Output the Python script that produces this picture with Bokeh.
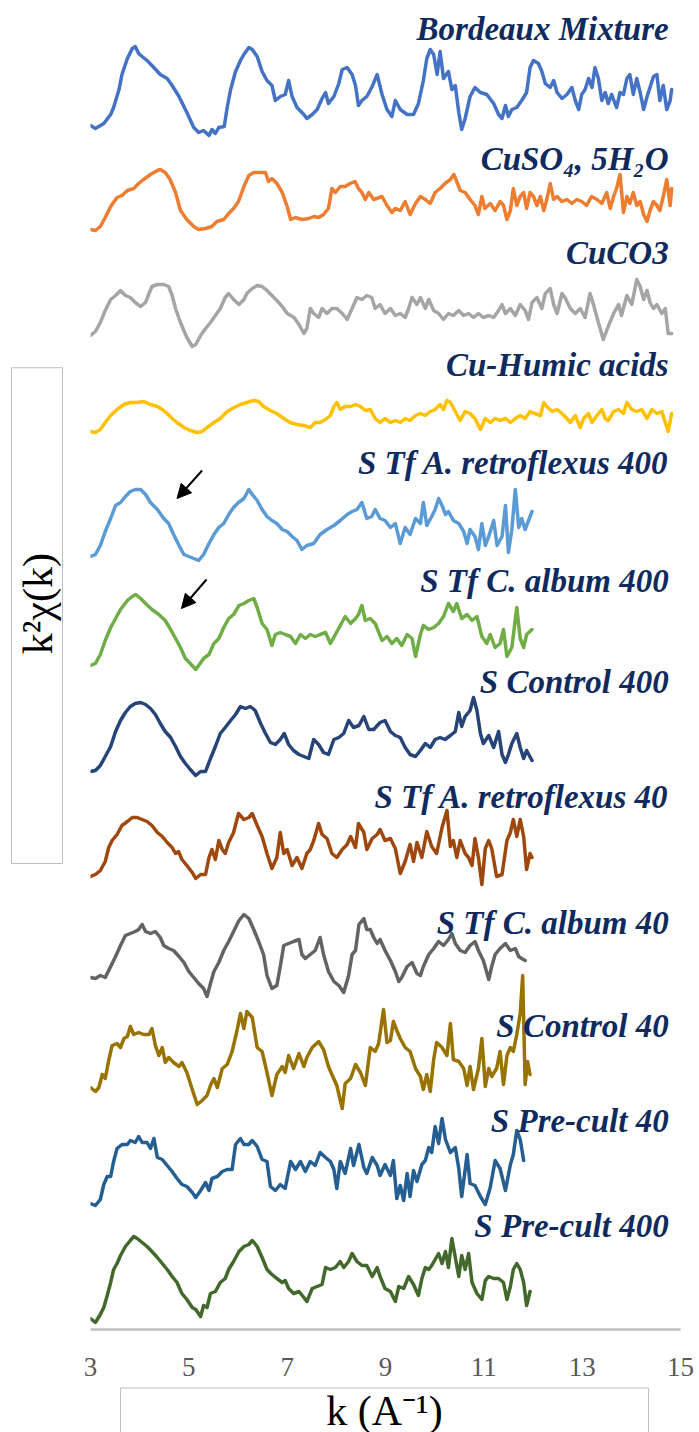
import math
from bokeh.plotting import figure
from bokeh.layouts import row, column
from bokeh.models import Range1d, FixedTicker, Arrow, NormalHead
from bokeh.core.properties import value
from bokeh.embed import file_html
from bokeh.resources import INLINE

# ---------------- data: (k, k^2 chi(k)), per sample ----------------
bordeaux = [(3.00,0),(3.10,-3),(3.27,2),(3.41,11),(3.47,18),(3.58,36),(3.64,51),(3.75,67),(3.85,77),(3.91,79),
            (3.98,72),(4.05,69),(4.15,65),(4.25,60),(4.42,51),(4.56,47),(4.66,40),(4.80,29),(4.96,13),(5.10,-2),
            (5.20,-7),(5.30,-5),(5.41,-10),(5.47,-4),(5.54,-8),(5.61,-2),(5.72,-1),(5.78,18),(5.85,36),(5.95,54),
            (6.05,65),(6.12,71),(6.22,78),(6.29,76),(6.39,69),(6.49,54),(6.59,45),(6.69,40),(6.76,25),(6.86,29),
            (6.96,31),(7.03,45),(7.10,29),(7.20,18),(7.34,11),(7.40,7),(7.51,11),(7.61,16),(7.71,27),(7.78,33),
            (7.84,22),(7.95,29),(8.05,42),(8.12,56),(8.22,58),(8.32,51),(8.39,40),(8.45,20),(8.52,25),(8.62,29),
            (8.72,38),(8.83,51),(8.93,31),(9.03,16),(9.13,9),(9.20,25),(9.30,16),(9.44,11),(9.57,11),(9.67,22),
            (9.77,45),(9.84,67),(9.91,76),(9.98,71),(10.05,51),(10.11,74),(10.18,47),(10.28,54),(10.35,36),(10.42,40),
            (10.49,13),(10.55,-4),(10.62,7),(10.72,29),(10.82,38),(10.93,33),(11.06,31),(11.20,22),(11.30,11),(11.37,7),
            (11.44,20),(11.50,9),(11.57,16),(11.67,18),(11.77,25),(11.87,33),(11.94,58),(12.01,65),(12.11,62),(12.18,54),
            (12.25,42),(12.35,38),(12.42,45),(12.49,33),(12.59,27),(12.69,31),(12.79,38),(12.86,25),(12.93,16),(12.99,31),
            (13.06,36),(13.13,47),(13.20,38),(13.26,58),(13.33,47),(13.40,25),(13.47,33),(13.53,22),(13.60,31),(13.70,18),
            (13.77,33),(13.84,31),(13.91,47),(13.97,51),(14.04,31),(14.11,47),(14.18,33),(14.25,16),(14.32,29),(14.38,38),
            (14.45,49),(14.52,51),(14.58,25),(14.65,40),(14.72,16),(14.79,25),(14.82,36)]

cuso4 = [(3.00,0),(3.10,-1),(3.20,3),(3.30,12),(3.41,23),(3.54,32),(3.64,34),(3.75,39),(3.88,41),(3.98,46),
         (4.08,50),(4.22,55),(4.36,59),(4.42,60),(4.52,57),(4.62,50),(4.73,37),(4.83,19),(4.96,10),(5.10,3),
         (5.20,0),(5.34,1),(5.47,3),(5.57,8),(5.71,10),(5.81,16),(5.91,21),(6.01,28),(6.12,43),(6.22,54),
         (6.32,57),(6.46,57),(6.56,57),(6.62,48),(6.69,51),(6.79,46),(6.90,37),(7.00,23),(7.07,10),(7.17,12),
         (7.30,10),(7.44,11),(7.54,13),(7.64,12),(7.74,15),(7.84,21),(7.91,41),(7.98,37),(8.08,43),(8.18,43),
         (8.28,46),(8.38,48),(8.45,41),(8.52,37),(8.59,30),(8.66,37),(8.76,30),(8.93,33),(9.03,24),(9.13,17),
         (9.20,21),(9.30,19),(9.40,28),(9.50,15),(9.61,26),(9.71,33),(9.81,30),(9.91,26),(10.01,37),(10.11,41),
         (10.21,46),(10.32,50),(10.39,55),(10.45,48),(10.52,39),(10.62,37),(10.72,30),(10.82,24),(10.89,15),(10.96,33),
         (11.02,21),(11.13,26),(11.23,19),(11.33,28),(11.40,24),(11.47,10),(11.54,19),(11.60,41),(11.67,24),(11.74,33),
         (11.81,37),(11.87,21),(11.94,37),(12.01,33),(12.08,24),(12.15,33),(12.22,19),(12.28,30),(12.35,46),(12.42,30),
         (12.49,33),(12.59,28),(12.69,30),(12.79,26),(12.89,30),(12.99,28),(13.09,24),(13.19,33),(13.30,30),(13.40,26),
         (13.50,37),(13.57,21),(13.64,33),(13.70,41),(13.77,55),(13.84,17),(13.91,33),(13.97,26),(14.04,37),(14.11,24),
         (14.18,28),(14.25,15),(14.32,8),(14.38,19),(14.45,28),(14.52,24),(14.58,19),(14.65,33),(14.72,50),(14.79,24),
         (14.82,41)]

cuco3 = [(3.00,0),(3.10,4),(3.20,13),(3.30,25),(3.41,36),(3.51,40),(3.61,45),(3.71,40),(3.81,38),(3.91,33),
         (4.02,29),(4.12,33),(4.19,42),(4.25,49),(4.36,51),(4.49,51),(4.59,49),(4.66,40),(4.73,27),(4.83,13),
         (4.96,-2),(5.07,-11),(5.14,-9),(5.24,0),(5.34,7),(5.44,13),(5.54,20),(5.64,27),(5.74,38),(5.81,42),
         (5.91,36),(6.02,31),(6.12,36),(6.18,42),(6.29,47),(6.39,50),(6.49,49),(6.59,45),(6.69,40),(6.79,35),
         (6.90,29),(7.00,22),(7.14,18),(7.24,11),(7.34,2),(7.40,7),(7.47,27),(7.54,22),(7.64,18),(7.71,27),
         (7.81,22),(7.91,27),(8.01,27),(8.12,22),(8.22,16),(8.32,27),(8.42,38),(8.52,36),(8.62,40),(8.72,38),
         (8.79,27),(8.89,31),(8.99,22),(9.10,27),(9.20,20),(9.30,22),(9.40,18),(9.47,27),(9.54,38),(9.64,31),
         (9.71,38),(9.81,27),(9.88,36),(9.98,25),(10.08,22),(10.18,16),(10.28,22),(10.38,20),(10.49,25),(10.59,20),
         (10.69,22),(10.79,18),(10.89,22),(10.99,18),(11.10,20),(11.20,18),(11.30,25),(11.37,31),(11.44,22),(11.54,27),
         (11.64,20),(11.74,31),(11.84,25),(11.91,16),(11.98,33),(12.08,38),(12.18,27),(12.25,42),(12.35,47),(12.42,31),
         (12.49,22),(12.59,42),(12.65,38),(12.76,27),(12.86,22),(12.96,27),(13.06,18),(13.16,42),(13.23,31),(13.33,13),
         (13.43,-4),(13.53,9),(13.64,22),(13.74,31),(13.80,20),(13.91,40),(14.01,31),(14.11,56),(14.18,49),(14.25,36),
         (14.32,45),(14.38,33),(14.45,27),(14.52,31),(14.62,22),(14.69,27),(14.75,2),(14.82,2)]

humic = [(3.00,0),(3.10,-1),(3.20,2),(3.30,9),(3.41,16),(3.54,22),(3.68,27),(3.81,29),(3.95,29),(4.08,30),
         (4.22,27),(4.36,25),(4.46,22),(4.56,18),(4.66,13),(4.76,9),(4.90,4),(5.03,1),(5.17,-1),(5.27,0),
         (5.37,4),(5.51,9),(5.64,13),(5.78,20),(5.92,24),(6.05,27),(6.18,29),(6.32,31),(6.42,30),(6.52,25),
         (6.66,21),(6.79,18),(6.93,13),(7.06,9),(7.20,7),(7.34,6),(7.47,4),(7.57,9),(7.67,9),(7.78,12),
         (7.88,16),(7.95,25),(8.01,29),(8.08,22),(8.18,25),(8.29,25),(8.39,27),(8.49,25),(8.59,21),(8.69,22),
         (8.79,13),(8.89,9),(8.99,13),(9.10,9),(9.20,11),(9.30,9),(9.40,13),(9.50,11),(9.61,16),(9.71,18),
         (9.81,16),(9.91,20),(10.01,22),(10.11,27),(10.18,22),(10.25,31),(10.32,29),(10.42,20),(10.52,11),(10.62,20),
         (10.72,18),(10.82,13),(10.93,2),(11.03,13),(11.13,9),(11.23,13),(11.33,11),(11.44,13),(11.54,9),(11.64,13),
         (11.74,16),(11.84,13),(11.94,20),(12.04,18),(12.15,16),(12.22,29),(12.28,25),(12.39,20),(12.49,22),(12.59,18),
         (12.69,13),(12.76,9),(12.86,16),(12.96,4),(13.03,13),(13.13,18),(13.20,9),(13.30,16),(13.40,22),(13.47,13),
         (13.53,11),(13.64,20),(13.74,22),(13.84,18),(13.91,29),(14.01,22),(14.11,20),(14.21,22),(14.32,13),(14.42,22),
         (14.52,18),(14.62,20),(14.69,9),(14.75,0),(14.82,18)]

aretro400 = [(3.00,0),(3.10,2),(3.20,11),(3.30,25),(3.41,38),(3.51,51),(3.61,54),(3.71,60),(3.81,65),(3.91,67),
             (4.02,67),(4.12,62),(4.22,54),(4.36,47),(4.49,38),(4.59,33),(4.69,22),(4.80,11),(4.90,2),(5.00,0),
             (5.10,-2),(5.20,-4),(5.30,2),(5.41,13),(5.51,22),(5.61,29),(5.71,33),(5.81,42),(5.91,49),(6.01,54),
             (6.12,58),(6.22,67),(6.29,62),(6.39,56),(6.49,47),(6.59,40),(6.69,36),(6.79,33),(6.90,27),(7.00,25),
             (7.10,20),(7.20,16),(7.30,7),(7.40,11),(7.54,13),(7.67,22),(7.81,27),(7.95,31),(8.08,36),(8.22,42),
             (8.32,45),(8.42,47),(8.52,54),(8.62,38),(8.72,40),(8.79,47),(8.89,38),(8.99,36),(9.10,29),(9.20,33),
             (9.30,13),(9.40,29),(9.50,22),(9.61,38),(9.71,33),(9.77,54),(9.84,31),(9.94,40),(10.01,47),(10.08,58),
             (10.15,51),(10.22,42),(10.28,45),(10.38,36),(10.49,33),(10.59,25),(10.66,13),(10.72,27),(10.82,20),(10.89,7),
             (10.96,33),(11.03,11),(11.10,20),(11.20,36),(11.27,11),(11.37,20),(11.44,51),(11.50,4),(11.57,27),(11.64,67),
             (11.71,29),(11.77,38),(11.84,27),(11.91,36),(11.98,45)]

calbum400 = [(3.00,0),(3.10,2),(3.20,11),(3.30,25),(3.41,38),(3.51,47),(3.61,56),(3.75,65),(3.85,69),(3.92,71),
             (4.02,67),(4.12,62),(4.25,56),(4.39,51),(4.52,45),(4.63,36),(4.73,27),(4.83,18),(4.93,7),(5.03,2),
             (5.14,-4),(5.20,0),(5.30,7),(5.41,11),(5.51,22),(5.61,27),(5.71,38),(5.81,47),(5.91,51),(6.02,60),
             (6.12,62),(6.22,65),(6.32,67),(6.39,58),(6.49,42),(6.59,36),(6.69,20),(6.76,31),(6.86,33),(6.96,31),
             (7.07,29),(7.17,22),(7.27,31),(7.37,27),(7.47,31),(7.57,29),(7.67,31),(7.78,33),(7.88,22),(7.98,31),
             (8.08,40),(8.18,49),(8.29,42),(8.39,47),(8.45,51),(8.52,60),(8.59,45),(8.69,47),(8.79,42),(8.93,25),
             (9.03,29),(9.13,22),(9.23,27),(9.33,20),(9.44,31),(9.54,27),(9.61,9),(9.71,31),(9.77,40),(9.88,36),
             (9.98,38),(10.08,42),(10.18,49),(10.28,62),(10.38,54),(10.45,62),(10.55,47),(10.66,51),(10.76,45),(10.86,49),
             (10.96,29),(11.06,22),(11.13,31),(11.23,18),(11.33,22),(11.40,36),(11.47,9),(11.57,18),(11.67,58),(11.74,27),
             (11.81,18),(11.87,31),(11.98,36)]

control400 = [(3.00,0),(3.10,1),(3.20,6),(3.30,15),(3.41,25),(3.51,40),(3.61,51),(3.71,59),(3.81,65),(3.91,68),
              (4.02,69),(4.12,67),(4.22,63),(4.32,57),(4.42,48),(4.52,40),(4.63,34),(4.73,25),(4.83,15),(4.93,8),
              (5.03,2),(5.14,-4),(5.24,0),(5.34,0),(5.44,13),(5.54,25),(5.64,38),(5.74,44),(5.85,51),(5.95,57),
              (6.05,65),(6.15,63),(6.25,65),(6.35,61),(6.46,48),(6.56,38),(6.66,29),(6.76,27),(6.86,32),(6.94,38),
              (7.03,27),(7.13,21),(7.24,17),(7.34,15),(7.44,13),(7.54,32),(7.64,27),(7.74,19),(7.84,17),(7.95,32),
              (8.05,34),(8.15,38),(8.25,51),(8.35,44),(8.46,46),(8.56,55),(8.66,42),(8.76,42),(8.89,49),(8.99,51),
              (9.10,40),(9.20,36),(9.30,34),(9.40,24),(9.50,17),(9.61,15),(9.71,21),(9.81,28),(9.91,24),(10.01,32),
              (10.11,34),(10.21,32),(10.32,36),(10.42,40),(10.49,59),(10.55,45),(10.62,55),(10.72,61),(10.79,74),(10.86,61),
              (10.93,38),(10.99,28),(11.10,36),(11.20,24),(11.30,40),(11.37,17),(11.44,9),(11.50,17),(11.57,28),(11.67,38),
              (11.74,24),(11.81,13),(11.87,21),(11.98,11)]

aretro40 = [(3.00,0),(3.10,2),(3.20,6),(3.30,15),(3.37,29),(3.44,36),(3.54,42),(3.64,51),(3.75,55),(3.85,59),
            (3.95,59),(4.05,57),(4.15,55),(4.25,51),(4.36,44),(4.46,40),(4.56,34),(4.66,29),(4.73,23),(4.79,25),
            (4.86,17),(4.96,11),(5.07,4),(5.14,-2),(5.24,2),(5.34,2),(5.41,19),(5.47,27),(5.54,17),(5.61,36),
            (5.68,27),(5.74,23),(5.81,34),(5.91,44),(6.01,63),(6.12,57),(6.22,59),(6.29,63),(6.39,51),(6.49,40),
            (6.59,23),(6.69,8),(6.79,19),(6.86,44),(6.93,23),(7.00,27),(7.10,11),(7.20,19),(7.30,8),(7.40,23),
            (7.47,27),(7.54,36),(7.64,53),(7.71,42),(7.81,38),(7.91,23),(8.01,19),(8.12,27),(8.22,32),(8.29,40),
            (8.39,29),(8.45,53),(8.56,44),(8.62,27),(8.73,38),(8.83,42),(8.89,47),(8.99,36),(9.10,38),(9.20,28),
            (9.30,3),(9.40,15),(9.50,32),(9.57,15),(9.64,34),(9.74,19),(9.84,45),(9.94,30),(10.04,23),(10.15,49),
            (10.25,66),(10.32,30),(10.38,36),(10.45,19),(10.52,36),(10.62,23),(10.69,19),(10.76,11),(10.82,38),(10.89,19),
            (10.96,-8),(11.03,28),(11.10,36),(11.16,28),(11.26,0),(11.37,2),(11.47,36),(11.54,44),(11.60,57),(11.67,40),
            (11.74,57),(11.81,40),(11.87,7),(11.94,23),(11.98,19)]

calbum40 = [(3.00,0),(3.10,-1),(3.20,2),(3.30,0),(3.41,11),(3.51,21),(3.61,32),(3.71,42),(3.81,44),(3.91,46),
            (3.98,48),(4.05,53),(4.12,46),(4.22,44),(4.32,46),(4.42,40),(4.49,32),(4.59,29),(4.69,27),(4.80,21),
            (4.90,15),(5.00,6),(5.10,0),(5.20,-6),(5.30,-11),(5.37,-19),(5.44,-6),(5.51,6),(5.61,15),(5.71,27),
            (5.81,36),(5.91,46),(6.02,57),(6.12,63),(6.22,59),(6.32,48),(6.42,36),(6.52,23),(6.59,2),(6.69,-11),
            (6.79,-8),(6.86,11),(6.93,32),(7.03,34),(7.13,36),(7.24,38),(7.30,23),(7.37,19),(7.47,23),(7.57,27),
            (7.67,40),(7.74,23),(7.84,6),(7.95,-4),(8.05,-8),(8.15,-15),(8.25,2),(8.32,23),(8.39,27),(8.46,53),
            (8.56,59),(8.62,48),(8.69,48),(8.76,40),(8.83,34),(8.89,38),(8.99,27),(9.10,17),(9.20,6),(9.27,-4),
            (9.33,0),(9.44,11),(9.54,15),(9.64,4),(9.71,2),(9.77,11),(9.88,23),(9.98,29),(10.08,36),(10.18,32),
            (10.28,38),(10.35,44),(10.42,34),(10.52,27),(10.62,25),(10.72,32),(10.82,36),(10.89,27),(10.99,17),(11.10,-2),
            (11.16,11),(11.23,23),(11.33,29),(11.44,34),(11.54,27),(11.64,29),(11.71,21),(11.77,19),(11.84,17)]

control40 = [(3.00,2),(3.10,-2),(3.17,2),(3.24,15),(3.30,11),(3.37,29),(3.44,44),(3.54,46),(3.61,42),(3.68,51),
             (3.75,53),(3.81,63),(3.88,55),(3.98,57),(4.08,55),(4.19,55),(4.25,61),(4.32,44),(4.39,34),(4.46,42),
             (4.52,27),(4.59,32),(4.69,27),(4.80,23),(4.86,27),(4.96,17),(5.07,0),(5.17,-15),(5.27,-11),(5.37,-6),
             (5.44,4),(5.51,11),(5.58,2),(5.68,21),(5.78,25),(5.88,38),(5.98,59),(6.05,76),(6.12,61),(6.18,78),
             (6.29,72),(6.39,42),(6.49,38),(6.59,17),(6.69,-6),(6.79,15),(6.90,23),(6.96,17),(7.03,34),(7.13,21),
             (7.24,36),(7.34,23),(7.40,32),(7.51,42),(7.64,48),(7.74,40),(7.84,23),(7.91,15),(8.01,4),(8.12,-19),
             (8.18,6),(8.29,11),(8.39,25),(8.49,17),(8.59,4),(8.69,42),(8.79,38),(8.86,46),(8.96,80),(9.03,47),
             (9.10,49),(9.16,68),(9.23,59),(9.30,51),(9.40,42),(9.50,38),(9.61,21),(9.71,13),(9.77,0),(9.84,15),
             (9.91,-2),(9.98,30),(10.04,47),(10.15,42),(10.25,34),(10.32,66),(10.38,30),(10.49,28),(10.59,21),(10.66,4),
             (10.72,23),(10.79,0),(10.89,21),(10.96,51),(11.03,3),(11.10,21),(11.16,13),(11.26,21),(11.33,38),(11.40,5),
             (11.47,34),(11.54,42),(11.60,38),(11.67,55),(11.74,76),(11.79,114),(11.84,5),(11.89,28),(11.94,15)]

precult40 = [(3.00,2),(3.10,0),(3.20,6),(3.27,21),(3.34,29),(3.41,29),(3.47,44),(3.54,57),(3.64,61),(3.75,61),
             (3.81,65),(3.91,63),(3.98,69),(4.05,63),(4.15,63),(4.22,57),(4.29,67),(4.36,48),(4.46,46),(4.56,40),
             (4.66,34),(4.76,27),(4.86,21),(4.96,19),(5.07,13),(5.14,8),(5.24,15),(5.34,23),(5.41,15),(5.47,27),
             (5.58,29),(5.68,34),(5.78,36),(5.88,36),(5.95,61),(6.05,67),(6.12,61),(6.22,61),(6.29,65),(6.39,59),
             (6.49,46),(6.59,44),(6.66,19),(6.76,15),(6.86,21),(6.96,17),(7.07,44),(7.17,36),(7.27,44),(7.37,34),
             (7.47,44),(7.57,40),(7.67,53),(7.78,48),(7.88,44),(7.95,36),(8.01,17),(8.08,44),(8.18,32),(8.29,57),
             (8.35,40),(8.46,61),(8.56,38),(8.62,32),(8.73,48),(8.83,40),(8.89,30),(8.99,41),(9.10,30),(9.16,45),
             (9.23,7),(9.30,20),(9.37,5),(9.44,32),(9.50,9),(9.57,35),(9.64,24),(9.74,41),(9.81,45),(9.88,58),
             (9.94,53),(10.01,79),(10.08,62),(10.15,87),(10.22,66),(10.32,53),(10.42,58),(10.49,37),(10.55,9),(10.66,51),
             (10.72,22),(10.82,20),(10.93,9),(11.03,1),(11.13,18),(11.23,45),(11.33,37),(11.44,15),(11.54,41),(11.60,51),
             (11.67,75),(11.74,66),(11.81,45)]

precult400 = [(3.00,2),(3.10,-2),(3.20,6),(3.27,13),(3.34,25),(3.41,38),(3.47,51),(3.54,57),(3.61,65),(3.71,74),
              (3.81,80),(3.88,84),(3.95,82),(4.05,78),(4.15,74),(4.25,69),(4.36,63),(4.46,57),(4.56,51),(4.66,44),
              (4.76,38),(4.86,27),(4.96,21),(5.07,13),(5.14,11),(5.24,4),(5.30,15),(5.37,13),(5.44,27),(5.54,29),
              (5.64,38),(5.74,42),(5.81,51),(5.91,59),(6.02,69),(6.12,74),(6.22,76),(6.29,80),(6.39,74),(6.49,63),
              (6.59,51),(6.69,46),(6.79,42),(6.90,38),(6.96,40),(7.03,32),(7.13,27),(7.24,29),(7.34,23),(7.40,19),
              (7.51,32),(7.61,34),(7.71,36),(7.78,53),(7.88,51),(7.98,53),(8.08,59),(8.15,53),(8.25,59),(8.32,67),
              (8.42,59),(8.52,55),(8.62,55),(8.73,44),(8.83,53),(8.89,44),(8.99,32),(9.10,29),(9.20,19),(9.27,34),
              (9.37,32),(9.47,44),(9.57,36),(9.67,25),(9.74,42),(9.81,53),(9.88,51),(9.94,55),(10.01,61),(10.08,67),
              (10.15,57),(10.22,69),(10.28,53),(10.35,82),(10.42,63),(10.49,44),(10.55,65),(10.62,51),(10.69,67),(10.76,38),
              (10.86,27),(10.96,21),(11.03,40),(11.10,44),(11.20,42),(11.30,42),(11.40,38),(11.47,21),(11.54,34),(11.60,51),
              (11.67,57),(11.74,51),(11.81,38),(11.87,15),(11.94,29)]

series = [bordeaux, cuso4, cuco3, humic, aretro400, calbum400,
          control400, aretro40, calbum40, control40, precult40, precult400]
labels = ["Bordeaux Mixture", "CuSO\u2084, 5H\u2082O", "CuCO3", "Cu-Humic acids",
          "S Tf A. retroflexus 400", "S Tf C. album 400", "S Control 400",
          "S Tf A. retroflexus 40", "S Tf C. album 40", "S Control 40",
          "S Pre-cult 40", "S Pre-cult 400"]
offsets = [1204, 1100, 994, 898, 773, 664, 558, 453, 352, 240, 124, 9]
label_y = [1301, 1171, 1077, 965, 867, 749, 648, 533, 407, 304, 209, 104]
colors = ["#4472C4", "#ED7D31", "#A5A5A5", "#FFC000", "#5B9BD5", "#70AD47",
          "#264478", "#9E480E", "#636363", "#997300", "#255E91", "#43682B"]
x_ticks = [3, 5, 7, 9, 11, 13, 15]
x_title = "k (A\u207b\u00b9)"
y_title = "k\u00b2\u03c7(k)"
# arrows (k_start, y_start, k_end, y_end)
arrows = [(5.27, 859, 4.76, 831), (5.36, 750, 4.85, 721)]

SERIF = "Liberation Serif"


def bare(fig):
    fig.outline_line_color = None
    fig.xgrid.grid_line_color = None
    fig.ygrid.grid_line_color = None
    fig.background_fill_color = "white"
    fig.border_fill_color = "white"
    return fig


# ---------------- main plot (page x 78..699, y 0..1386) ----------------
p = figure(width=621, height=1386, output_backend="svg", toolbar_location=None,
           x_range=Range1d(3, 15), y_range=Range1d(0, 1329),
           y_axis_location=None, min_border_left=12, min_border_right=19,
           min_border_top=0, min_border_bottom=57)
bare(p)

for data, off, col in zip(series, offsets, colors):
    ks = [d[0] for d in data]
    ys = [d[1] + off for d in data]
    p.line(ks, ys, line_color=col, line_width=3.5, line_join="round", line_cap="round")

p.text(x=[14.76] * len(labels), y=label_y, text=labels, text_align="right",
       text_baseline="middle", text_font=value(SERIF),
       text_font_style="bold italic", text_font_size="33px", text_color="#0E2A5E")

for (x0, y0, x1, y1) in arrows:
    p.add_layout(Arrow(end=NormalHead(size=14, fill_color="black", line_color="black"),
                       x_start=x0, y_start=y0, x_end=x1, y_end=y1,
                       line_color="black", line_width=2))

ax = p.xaxis[0]
ax.ticker = FixedTicker(ticks=x_ticks)
ax.axis_line_color = "#BFBFBF"
ax.axis_line_width = 2.5
ax.major_tick_line_color = None
ax.minor_tick_line_color = None
ax.major_label_text_font = SERIF
ax.major_label_text_font_size = "27px"
ax.major_label_text_color = "#595959"
ax.major_label_standoff = 22

# ---------------- left strip: y title in a box (page x 0..78) ----------------
left = figure(width=78, height=1386, output_backend="svg", toolbar_location=None,
              x_range=Range1d(0, 78), y_range=Range1d(1386, 0),
              x_axis_location=None, y_axis_location=None,
              min_border=0, min_border_left=0, min_border_right=0,
              min_border_top=0, min_border_bottom=0)
bare(left)
left.quad(left=[11], right=[62], top=[383], bottom=[900],
          fill_color=None, line_color="#BFBFBF", line_width=1)
left.text(x=[37], y=[629], text=[y_title], angle=math.pi / 2,
          text_align="center", text_baseline="middle",
          text_font=value(SERIF), text_font_size="42px", text_color="black")

# ---------------- bottom strip: x title in a box (page y 1386..1432) ----------------
bottom = figure(width=699, height=46, output_backend="svg", toolbar_location=None,
                x_range=Range1d(0, 699), y_range=Range1d(1432, 1386),
                x_axis_location=None, y_axis_location=None,
                min_border=0, min_border_left=0, min_border_right=0,
                min_border_top=0, min_border_bottom=0)
bare(bottom)
bottom.quad(left=[120], right=[648], top=[1387.5], bottom=[1470],
            fill_color=None, line_color="#BFBFBF", line_width=1)
bottom.text(x=[384], y=[1410], text=[x_title], text_align="center",
            text_baseline="middle", text_font=value(SERIF),
            text_font_size="42px", text_color="black")

layout = column(row(left, p, spacing=0), bottom, spacing=0)
open("out.html", "w").write(file_html(layout, INLINE))
